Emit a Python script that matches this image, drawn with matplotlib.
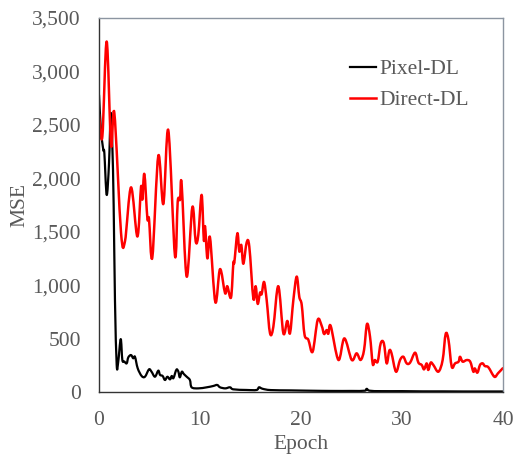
"""Training curves: MSE per epoch for Pixel-DL and Direct-DL."""

import matplotlib

matplotlib.use("Agg")
import matplotlib.pyplot as plt
from matplotlib.lines import Line2D
from matplotlib.patches import PathPatch
from matplotlib.path import Path
from matplotlib.ticker import FuncFormatter, MultipleLocator

# Pixel-DL (black), values
pixel_epoch = [
    0.0, 0.2, 0.43, 0.53, 0.76, 0.99, 1.16, 1.32, 1.45, 1.58, 1.75, 1.9,
    2.15, 2.31, 2.5, 2.74, 2.9, 3.17, 3.39, 3.56, 3.83, 4.22, 4.55, 4.95,
    5.2, 5.54, 5.87, 6.04, 6.3, 6.53, 6.77, 7.03, 7.2, 7.36, 7.53, 7.69,
    7.86, 8.0, 8.2, 8.4, 8.68, 9.0, 9.17, 9.83, 10.67, 11.3, 11.7, 11.98,
    12.5, 12.97, 13.3, 14.6, 15.6, 15.84, 16.2, 17.0, 19.0, 21.0, 23.0,
    25.0, 26.3, 26.5, 26.8, 28.0, 30.0, 32.0, 34.0, 36.0, 38.0, 40.0,
]
pixel_mse = [
    2780, 2440, 2265, 2235, 1845, 2140, 2610, 2300, 1750, 860, 255, 280,
    495, 300, 286, 268, 324, 346, 315, 330, 222, 150, 143, 212,
    190, 143, 200, 160, 150, 112, 143, 118, 150, 128, 175, 212,
    190, 137, 190, 168, 143, 112, 44, 34, 44, 56, 66, 44,
    34, 44, 25, 19, 19, 44, 30, 18, 15, 12, 10,
    10, 12, 30, 12, 8, 8, 6, 6, 5, 5, 5,
]

# Direct-DL (red)
direct_epoch = [
    0.0, 0.33, 0.76, 1.19, 1.52, 2.18, 2.57, 3.17, 3.8, 4.16, 4.29, 4.49,
    4.79, 4.95, 5.28, 5.87, 6.37, 6.86, 7.52, 7.79, 8.02, 8.18, 8.68, 9.24,
    9.57, 9.83, 10.16, 10.38, 10.5, 10.73, 10.99, 11.52, 11.98, 12.48, 12.7,
    13.07, 13.3, 13.4, 13.7, 13.89, 14.09, 14.29, 14.62, 14.88, 15.28, 15.51,
    15.71, 15.94, 16.1, 16.34, 16.6, 16.93, 17.26, 17.75, 18.25, 18.64, 18.91,
    19.24, 19.57, 19.83, 20.07, 20.35, 20.72, 21.15, 21.65, 22.05, 22.28,
    22.54, 22.7, 22.94, 23.7, 24.29, 25.02, 25.5, 25.9, 26.24, 26.53, 26.83,
    27.1, 27.3, 27.59, 27.89, 28.2, 28.48, 28.74, 28.96, 29.4, 29.8, 30.13,
    30.46, 30.8, 31.29, 31.62, 31.95, 32.18, 32.44, 32.6, 32.84, 33.1, 33.6,
    34.02, 34.32, 34.6, 34.92, 35.25, 35.6, 35.74, 36.0, 36.4, 36.75, 37.06,
    37.2, 37.46, 37.72, 37.98, 38.2, 38.55, 39.14, 39.5, 39.97,
]
direct_mse = [
    2600, 2390, 3280, 2310, 2610, 1490, 1410, 1915, 1455, 1920, 1800, 2040,
    1625, 1620, 1260, 2210, 1760, 2450, 1275, 1780, 1800, 1950, 1080, 1730,
    1410, 1470, 1845, 1420, 1550, 1250, 1445, 840, 1150, 925, 990,
    885, 1205, 1215, 1485, 1315, 1375, 1200, 1400, 1360, 875, 990,
    825, 930, 915, 1030, 860, 550, 610, 990, 550, 665, 550,
    860, 1080, 890, 815, 535, 490, 377, 675, 618, 543,
    580, 545, 618, 300, 502, 300, 362, 300, 393, 636, 518,
    262, 299, 284, 456, 456, 268, 387, 362, 190, 299, 330,
    268, 275, 368, 275, 253, 212, 268, 206, 275, 253, 190,
    299, 543, 487, 237, 268, 284, 330, 284, 299, 284, 190,
    221, 181, 253, 268, 243, 231, 143, 175, 222,
]

TEXT_GREY = "#595959"
FS = 15.5


def smooth_path(xs, ys):
    """Spreadsheet-style smoothed line: cubic Bezier through every point."""
    pts = list(zip(xs, ys))
    verts = [pts[0]]
    codes = [Path.MOVETO]
    n = len(pts)
    for i in range(n - 1):
        p0 = pts[max(i - 1, 0)]
        p1 = pts[i]
        p2 = pts[i + 1]
        p3 = pts[min(i + 2, n - 1)]
        c1 = (p1[0] + (p2[0] - p0[0]) / 6, p1[1] + (p2[1] - p0[1]) / 6)
        c2 = (p2[0] - (p3[0] - p1[0]) / 6, p2[1] - (p3[1] - p1[1]) / 6)
        verts += [c1, c2, p2]
        codes += [Path.CURVE4] * 3
    return Path(verts, codes)


plt.rcParams["font.family"] = ["Liberation Serif", "DejaVu Serif"]
plt.rcParams["font.size"] = FS

fig = plt.figure(figsize=(5.17, 4.58), dpi=100)
ax = fig.add_axes([0.1915, 0.1441, 0.7815, 0.8166])

series = [
    (pixel_epoch, pixel_mse, "black", 1.6, "Pixel-DL"),
    (direct_epoch, direct_mse, "#ff0000", 1.8, "Direct-DL"),
]
handles = []
for xs, ys, color, lw, name in series:
    patch = PathPatch(smooth_path(xs, ys), transform=ax.transData, fill=False,
                      edgecolor=color, linewidth=lw, joinstyle="round",
                      capstyle="round", clip_on=True)
    ax.add_patch(patch)
    handles.append(Line2D([], [], color=color, linewidth=lw, label=name))

ax.set_xlim(0, 40)
ax.set_ylim(0, 3500)
ax.xaxis.set_major_locator(MultipleLocator(10))
ax.yaxis.set_major_locator(MultipleLocator(500))
ax.yaxis.set_major_formatter(FuncFormatter(lambda v, _: f"{v:,.0f}"))
ax.tick_params(length=0, colors=TEXT_GREY, labelsize=FS)
ax.tick_params(axis="y", pad=13)
ax.tick_params(axis="x", pad=14)

for side in ("top", "right"):
    ax.spines[side].set_color("#8c95a1")
for side in ("left", "bottom"):
    ax.spines[side].set_color("#333333")
for s in ax.spines.values():
    s.set_linewidth(1.0)

ax.set_xlabel("Epoch", color=TEXT_GREY, fontsize=FS, labelpad=3)
ax.set_ylabel("MSE", color=TEXT_GREY, fontsize=FS, labelpad=2)

leg = ax.legend(handles=handles, loc="upper left", bbox_to_anchor=(0.62, 0.89),
                frameon=False, handlelength=1.25, handletextpad=0.15,
                labelspacing=0.5, borderaxespad=0, borderpad=0)
for t in leg.get_texts():
    t.set_color(TEXT_GREY)

fig.savefig("out.png", dpi=100)
